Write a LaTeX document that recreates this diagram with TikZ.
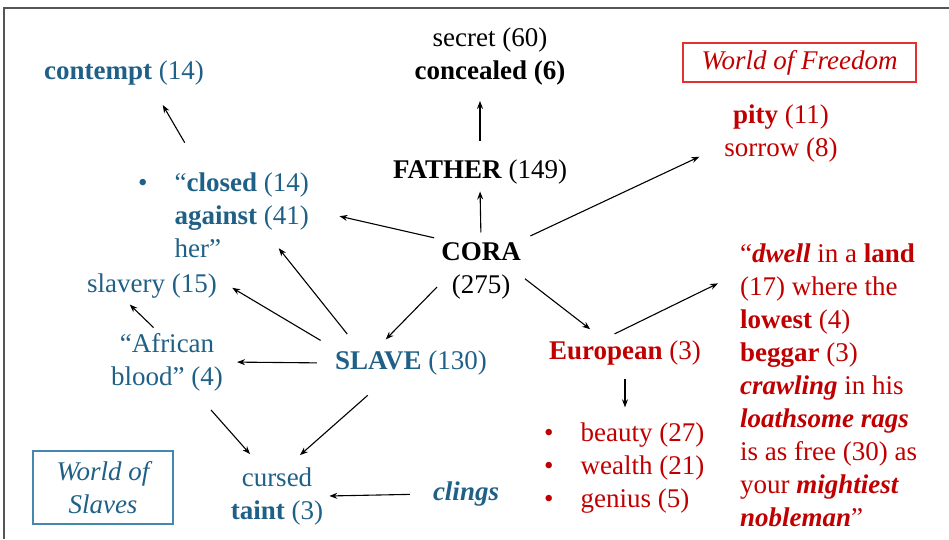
\documentclass[tikz,border=0pt]{standalone}
\usepackage{fontspec}
\setmainfont{Liberation Serif}
\usepackage{tikz}
\usetikzlibrary{arrows,arrows.meta,positioning}
\usepackage{xcolor}
\definecolor{dfslave}{RGB}{31,96,135}
\definecolor{dfslavebox}{RGB}{70,135,175}
\definecolor{dffree}{RGB}{192,0,0}
\definecolor{dffreebox}{RGB}{225,50,50}
\definecolor{dfframe}{RGB}{85,85,85}
\tikzstyle{arrow} = [line width=1.1pt,->,>={Stealth[length=8pt,width=6pt]},color=black]
\tikzstyle{slaveword} = [text=dfslave, inner sep=4pt]
\tikzstyle{freeword} = [text=dffree, inner sep=4pt]
\tikzstyle{coraword} = [text=black, inner sep=4pt]
\tikzstyle{worldbox} = [draw, line width=1.1pt, font=\fontsize{27}{33}\selectfont\itshape]
\newcommand{\wordlist}[1]{\begin{tabular}{@{}l@{\hspace{27pt}}l@{}}#1\end{tabular}}

\begin{document}
\begin{tikzpicture}[x=1pt,y=-1pt,every node/.style={font=\fontsize{27}{33}\selectfont}]
\useasboundingbox (0,0) rectangle (949,539);
% Frame
\draw[dfframe, line width=1.8pt] (4,539) -- (4,8) -- (949,8);

% Cora and her father
\node[coraword, align=center] (cora) at (481,271) {\textbf{CORA}\\(275)};
\node[coraword] (father) at (480,172) {\textbf{FATHER} (149)};
\node[coraword, align=center] (secret) at (490,57) {secret (60)\\\textbf{concealed (6)}};

% World of Slaves
\node[slaveword] (contempt) at (124,73) {\textbf{contempt} (14)};
\node[slaveword, anchor=west] (closed) at (134,218) {\wordlist{\textbullet & “\textbf{closed} (14)\\ & \textbf{against} (41)\\ & her”}};
\node[slaveword] (slavery) at (152,286) {slavery (15)};
\node[slaveword, align=center] (african) at (167,362) {“African\\blood” (4)};
\node[slaveword] (slave) at (411,363) {\textbf{SLAVE} (130)};
\node[slaveword, align=center] (cursed) at (277,496) {cursed\\\textbf{taint} (3)};
\node[slaveword] (clings) at (466,494) {\textbf{\textit{clings}}};
\node[worldbox, draw=dfslavebox, text=dfslave, minimum width=140pt, minimum height=73pt, align=center] (slaves) at (103,487.5) {World of\\Slaves};

% World of Freedom
\node[worldbox, draw=dffreebox, text=dffree, minimum width=233pt, minimum height=39pt] (freedom) at (799.5,62.5) {World of Freedom};
\node[freeword, align=center] (pity) at (781,134) {\textbf{pity} (11)\\sorrow (8)};
\node[freeword] (european) at (625,353) {\textbf{European} (3)};
\node[freeword, anchor=west] (goods) at (540,468) {\wordlist{\textbullet & beauty (27)\\ \textbullet & wealth (21)\\ \textbullet & genius (5)}};
\node[freeword, anchor=west, align=left] (dwell) at (736,385) {“\textbf{\textit{dwell}} in a \textbf{land}\\(17) where the\\\textbf{lowest} (4)\\\textbf{beggar} (3)\\\textbf{\textit{crawling}} in his\\\textbf{\textit{loathsome rags}}\\is as free (30) as\\your \textbf{\textit{mightiest}}\\\textbf{\textit{nobleman}}”};

% Connections
\draw[arrow, shorten <=15pt, shorten >=11pt] (father.north) -- (father.north |- secret.south);
\draw[arrow, shorten <=6pt, shorten >=3pt] (cora.north) -- (father.south);
\draw[arrow, shorten <=6pt, shorten >=23pt] (cora.north east) -- (pity.192);
\draw[arrow, shorten <=3pt, shorten >=27pt] (cora.north west) -- (closed.5);
\draw[arrow, shorten >=10pt] (cora.200) -- (slave.153);
\draw[arrow, shorten >=12pt] (cora.-10) -- (european.147);
\draw[arrow, shorten <=25pt, shorten >=18pt] (closed.116) -- (contempt.-29);
\draw[arrow, shorten <=16pt, shorten >=-30pt] (slave.163) -- (closed.-36);
\draw[arrow, shorten <=12pt, shorten >=13pt] (slave.north west) -- (slavery.4);
\draw[arrow, shorten <=14pt, shorten >=10pt] (slave.west) -- (african.east);
\draw[arrow, shorten <=2pt, shorten >=3pt] (african.110) -- (slavery.214);
\draw[arrow, shorten <=20pt, shorten >=12pt] (african.-47) -- (cursed.120);
\draw[arrow, shorten <=24pt, shorten >=12pt] (slave.213) -- (cursed.67);
\draw[arrow, shorten <=19pt, shorten >=2pt] (clings.west) -- (cursed.east);
\draw[arrow, shorten <=6pt, shorten >=20pt] (european.134) -- (dwell.130);
\draw[arrow, shorten <=10pt, shorten >=7pt] (european.south) -- (european.south |- goods.north);
\end{tikzpicture}
\end{document}
